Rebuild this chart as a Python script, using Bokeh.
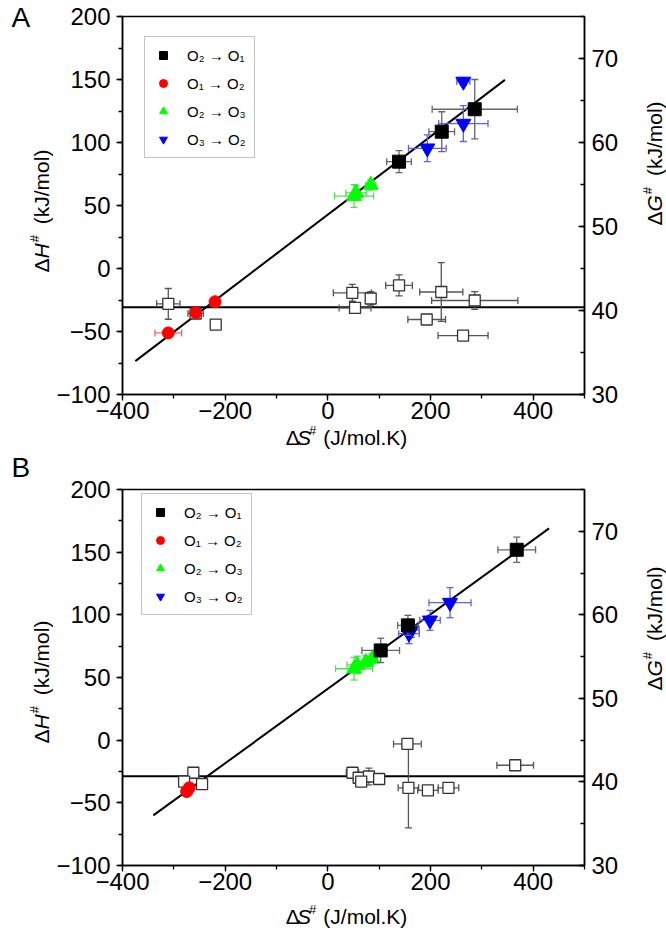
import math
from bokeh.plotting import figure
from bokeh.layouts import column, row
from bokeh.models import Range1d, LinearAxis, Label, Legend, LegendItem, SingleIntervalTicker
from bokeh.embed import file_html
from bokeh.resources import INLINE

# ---------------- data: panel A ----------------
a_o21_x = [138.7, 221.9, 286.2]
a_o21_y = [84.8, 108.6, 126.4]
a_o21_xerr = [24, 25, 83]
a_o21_yerr = [8.7, 15.8, 23.6]

a_o12_x = [-257.4, -219.8, -310.8]
a_o12_y = [-35.2, -26.4, -51.1]
a_o12_xerr = [10, 8, 26]
a_o12_yerr = [3, 3, 3]

a_o23_x = [51, 55, 83.5]
a_o23_y = [57.5, 60, 66.3]
a_o23_xerr = [38, 20, 10]
a_o23_yerr = [9, 6, 4]

a_o32_x = [193.8, 264, 264]
a_o32_y = [95.4, 115, 148.4]
a_o32_xerr = [36.7, 48, 12.7]
a_o32_yerr = [10.6, 14.2, 3]

a_open_x = [-310.8, -257.4, -218.4, 47.7, 53, 83.5, 138.7, 221, 192.6, 286.2, 263.4]
a_open_g = [40.79, 39.64, 38.33, 42.1, 40.31, 41.43, 42.98, 42.2, 38.93, 41.19, 37.02]
a_open_xerr = [22.7, 15, 8, 37, 31, 8, 26, 42, 36.7, 84, 48.7]
a_open_gerr = [1.83, 0.4, 0.3, 1.0, 0.3, 0.8, 1.25, 3.5, 0.3, 1.05, 0.3]

a_fit_x = [-375, 345]
a_fit_y = [-73.5, 149.7]
a_mean_g = 40.4

# ---------------- data: panel B ----------------
b_o21_x = [103, 156, 368]
b_o21_y = [71.6, 91.6, 151.9]
b_o21_xerr = [36.7, 20, 36.7]
b_o21_yerr = [9.7, 8, 10.1]

b_o12_x = [-275, -270]
b_o12_y = [-41, -38]
b_o12_xerr = [10, 8]
b_o12_yerr = [3, 3]

b_o23_x = [51, 57.4, 73.8, 86.7]
b_o23_y = [57, 60, 62.3, 65]
b_o23_xerr = [36, 20, 15, 10]
b_o23_yerr = [9, 7, 5, 4]

b_o32_x = [158, 163, 199, 238]
b_o32_y = [85, 88, 95.6, 109.7]
b_o32_xerr = [20, 15, 20, 41]
b_o32_yerr = [8, 6, 8, 12]

b_open_x = [-262, -280, -245, 48, 60, 80, 100, 65, 155, 157, 195, 235, 365]
b_open_g = [41.1, 40.05, 39.75, 41.1, 40.5, 40.65, 40.35, 40.05, 44.55, 39.3, 39.0, 39.3, 42.0]
b_open_xerr = [8, 8, 8, 12, 10, 10, 8, 8, 27, 20, 20, 20, 35.7]
b_open_gerr = [0.3, 0.3, 0.3, 0.4, 0.4, 1.0, 0.4, 0.3, 0.3, 4.8, 0.4, 0.5, 0.3]

b_fit_x = [-340, 431]
b_fit_y = [-60, 169]
b_mean_g = 40.68

XR = (-400, 500)
YR = (-100, 200)
GR = (30, 75)
FONT = "Liberation Sans"
F = 21  # axis title font size


def errbars(p, xs, ys, xe, ye, color, rng="default"):
    x0 = [x - e for x, e in zip(xs, xe)]
    x1 = [x + e for x, e in zip(xs, xe)]
    y0 = [y - e for y, e in zip(ys, ye)]
    y1 = [y + e for y, e in zip(ys, ye)]
    kw = dict(line_color=color, line_width=1.3, y_range_name=rng)
    p.segment(x0=x0, y0=ys, x1=x1, y1=ys, **kw)
    p.segment(x0=xs, y0=y0, x1=xs, y1=y1, **kw)
    p.scatter(x=x0 + x1, y=ys + ys, marker="dash", size=7, angle=math.pi / 2, **kw)
    p.scatter(x=xs + xs, y=y0 + y1, marker="dash", size=7, **kw)


def text_fig(w, h, transparent=False, **kw):
    t = figure(width=w, height=h, x_range=Range1d(0, w), y_range=Range1d(0, h),
               output_backend="svg", toolbar_location=None,
               x_axis_location=None, y_axis_location=None,
               min_border=0, min_border_left=0, min_border_right=0,
               min_border_top=0, min_border_bottom=0, **kw)
    t.grid.visible = False
    t.outline_line_color = None
    t.background_fill_color = "white"
    t.border_fill_color = "white"
    if transparent:
        t.background_fill_alpha = 0
        t.border_fill_alpha = 0
    return t


def put(t, h, px, py, text, size, style="normal", angle=0.0, align="left", baseline="middle"):
    t.add_layout(Label(x=px, y=h - py, text=text, text_font=FONT, text_font_style=style,
                       text_font_size=f"{size}px", angle=angle, text_align=align,
                       text_baseline=baseline, text_color="black"))


def vtitle(t, h, xc, ystart, sym):
    pcs = [("\u0394", "normal", F, 0, 0.668 * F),
           (sym, "italic", F, 0, (0.722 if sym == "H" else 0.778) * F + 1),
           ("#", "normal", int(F * 0.65), 0.32 * F, 0.556 * F * 0.65 + 0.5 * F),
           ("(kJ/mol)", "normal", F, 0, 0)]
    cy = ystart
    for txt, st, sz, raise_, adv in pcs:
        put(t, h, xc - raise_, cy, txt, sz, st, angle=math.pi / 2)
        cy -= adv


def htitle(t, h, x0, yc):
    pcs = [("\u0394", "normal", F, 0, 0.668 * F),
           ("S", "italic", F, 0, 0.667 * F + 1),
           ("#", "normal", int(F * 0.65), 0.32 * F, 0.556 * F * 0.65 + 0.5 * F),
           ("(J/mol.K)", "normal", F, 0, 0)]
    cx = x0
    for txt, st, sz, raise_, adv in pcs:
        put(t, h, cx, yc - raise_, txt, sz, st)
        cx += adv


def main_fig(top, fh, d, leg_loc):
    p = figure(frame_width=462, frame_height=fh,
               x_range=Range1d(*XR), y_range=Range1d(*YR),
               output_backend="svg", toolbar_location=None,
               min_border_left=65, min_border_right=48,
               min_border_top=top, min_border_bottom=36)
    p.extra_y_ranges = {"g": Range1d(*GR)}
    p.grid.visible = False
    p.outline_line_color = "black"
    p.outline_line_width = 1.5
    p.background_fill_color = "white"
    p.border_fill_color = "white"

    p.xaxis.ticker = SingleIntervalTicker(interval=200, num_minor_ticks=2)
    p.yaxis.ticker = SingleIntervalTicker(interval=50, num_minor_ticks=2)
    raxis = LinearAxis(y_range_name="g", ticker=SingleIntervalTicker(interval=10, num_minor_ticks=2))
    p.add_layout(raxis, "right")
    for ax in [p.xaxis[0], p.yaxis[0]]:
        ax.major_tick_out = 6
        ax.major_tick_in = 0
        ax.minor_tick_out = 4
        ax.minor_tick_in = 0
    raxis.major_tick_out = 0
    raxis.major_tick_in = 6
    raxis.minor_tick_out = 0
    raxis.minor_tick_in = 4
    for ax in [p.xaxis[0], p.yaxis[0], raxis]:
        ax.axis_line_width = 1.5
        ax.major_tick_line_width = 1.3
        ax.minor_tick_line_width = 1.3
        ax.major_label_text_font = FONT
        ax.major_label_text_font_size = "24px"
        ax.major_label_text_color = "black"
    p.yaxis[0].major_label_standoff = 6
    p.xaxis[0].major_label_standoff = 1
    raxis.major_label_standoff = 7

    p.line(d["fit_x"], d["fit_y"], line_color="black", line_width=2)
    p.line(list(XR), [d["mean_g"], d["mean_g"]], line_color="black", line_width=2, y_range_name="g")

    errbars(p, d["open_x"], d["open_g"], d["open_xerr"], d["open_gerr"], "#555555", rng="g")
    p.scatter(d["open_x"], d["open_g"], marker="square", size=11, fill_color="white",
              line_color="#333333", line_width=1.3, y_range_name="g")

    series = [
        ("o12", "#ff6060", "circle", "#ff0000", 12, "O\u2081 \u2192 O\u2082"),
        ("o23", "#55dd55", "triangle", "#00ff00", 15, "O\u2082 \u2192 O\u2083"),
        ("o32", "#6060ee", "inverted_triangle", "#0000ff", 15, "O\u2083 \u2192 O\u2082"),
        ("o21", "#666666", "square", "#000000", 13, "O\u2082 \u2192 O\u2081"),
    ]
    rends = {}
    for key, ecol, marker, col, size, lab in series:
        errbars(p, d[key + "_x"], d[key + "_y"], d[key + "_xerr"], d[key + "_yerr"], ecol)
        r = p.scatter(d[key + "_x"], d[key + "_y"], marker=marker, size=size,
                      fill_color=col, line_color=col)
        rends[key] = (r, lab)

    items = [LegendItem(label=rends[k][1], renderers=[rends[k][0]]) for k in ["o21", "o12", "o23", "o32"]]
    leg = Legend(items=items, location=leg_loc, glyph_width=20, glyph_height=20,
                 label_height=20, spacing=8, padding=8, label_standoff=14,
                 label_text_font=FONT, label_text_font_size="15px", label_text_color="black",
                 border_line_color="#888888", border_line_width=1.5,
                 background_fill_alpha=1.0, margin=0)
    p.add_layout(leg, "center")
    return p


dA = dict(o21_x=a_o21_x, o21_y=a_o21_y, o21_xerr=a_o21_xerr, o21_yerr=a_o21_yerr,
          o12_x=a_o12_x, o12_y=a_o12_y, o12_xerr=a_o12_xerr, o12_yerr=a_o12_yerr,
          o23_x=a_o23_x, o23_y=a_o23_y, o23_xerr=a_o23_xerr, o23_yerr=a_o23_yerr,
          o32_x=a_o32_x, o32_y=a_o32_y, o32_xerr=a_o32_xerr, o32_yerr=a_o32_yerr,
          open_x=a_open_x, open_g=a_open_g, open_xerr=a_open_xerr, open_gerr=a_open_gerr,
          fit_x=a_fit_x, fit_y=a_fit_y, mean_g=a_mean_g)
dB = dict(o21_x=b_o21_x, o21_y=b_o21_y, o21_xerr=b_o21_xerr, o21_yerr=b_o21_yerr,
          o12_x=b_o12_x, o12_y=b_o12_y, o12_xerr=b_o12_xerr, o12_yerr=b_o12_yerr,
          o23_x=b_o23_x, o23_y=b_o23_y, o23_xerr=b_o23_xerr, o23_yerr=b_o23_yerr,
          o32_x=b_o32_x, o32_y=b_o32_y, o32_xerr=b_o32_xerr, o32_yerr=b_o32_yerr,
          open_x=b_open_x, open_g=b_open_g, open_xerr=b_open_xerr, open_gerr=b_open_gerr,
          fit_x=b_fit_x, fit_y=b_fit_y, mean_g=b_mean_g)

LW, RW, MW = 53, 36, 575
AXH = 36   # bottom axis band of the main figures
OV = 6     # overlap of the title strip onto that band

# ---- panel A (page y 0..453) ----
mA = main_fig(16, 378, dA, (22, 236))
HA = 453
hMA = 16 + 378 + AXH
tA_top = hMA - OV
tA = text_fig(MW, HA - tA_top, transparent=True, margin=(-OV, 0, 0, 0))
htitle(tA, HA - tA_top, 258 - LW, 437 - tA_top)
lA = text_fig(LW, HA)
put(lA, HA, 11, 17, "A", 28)
vtitle(lA, HA, 41, 272, "H")
rA = text_fig(RW, HA)
vtitle(rA, HA, 650 - (LW + MW), 225, "G")

# ---- panel B (page y 453..932) ----
mB = main_fig(36, 376, dB, (19, 250))
HB = 479
hMB = 36 + 376 + AXH
tB_top = hMB - OV
tB = text_fig(MW, HB - tB_top, transparent=True, margin=(-OV, 0, 0, 0))
htitle(tB, HB - tB_top, 258 - LW, 916 - 453 - tB_top)
lB = text_fig(LW, HB)
put(lB, HB, 11, 467 - 453, "B", 28)
vtitle(lB, HB, 41, 743 - 453, "H")
rB = text_fig(RW, HB)
vtitle(rB, HB, 650 - (LW + MW), 690 - 453, "G")

layout = column(
    row(lA, column(mA, tA, spacing=0), rA, spacing=0),
    row(lB, column(mB, tB, spacing=0), rB, spacing=0),
    spacing=0)
open("out.html", "w").write(file_html(layout, INLINE))
